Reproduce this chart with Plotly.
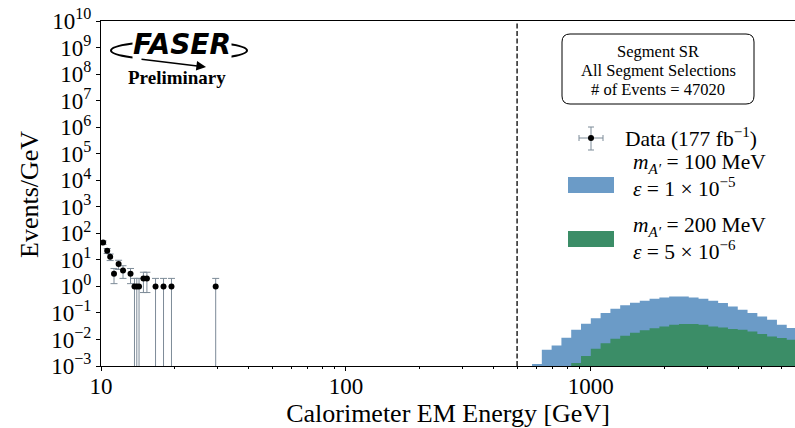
import numpy as np
import plotly.graph_objects as go

# ---------------- data ----------------
data_energy = [10.2, 10.6, 10.9, 11.3, 11.8, 12.3, 13.2, 13.7, 14.0, 14.3,
               14.9, 15.4, 16.7, 18.0, 19.4, 29.4]
data_events = [45, 22, 13, 3, 7, 4, 3, 1, 1, 1, 2, 2, 1, 1, 1, 1]

# signal histograms: log10 bin edges (0.04 decade bins)
signal_edges_log = [round(2.76 + 0.04 * i, 2) for i in range(28)]
signal_100mev = [0.0012, 0.0041, 0.0059, 0.0116, 0.023, 0.039, 0.063, 0.10,
                 0.144, 0.195, 0.243, 0.29, 0.34, 0.38, 0.42, 0.42, 0.38,
                 0.34, 0.29, 0.236, 0.176, 0.132, 0.099, 0.074, 0.055, 0.036,
                 0.027]
green_first_bin = 4
signal_200mev = [0.0013, 0.0024, 0.0045, 0.0072, 0.0106, 0.0138, 0.0179,
                 0.0222, 0.0265, 0.031, 0.036, 0.038, 0.038, 0.036, 0.031,
                 0.028, 0.025, 0.023, 0.020, 0.016, 0.013, 0.0113, 0.0097]

energy_cut = 500
y_tick_exponents = list(range(-3, 11))
x_tick_vals = [10, 100, 1000]
x_minor_vals = [m * 10 ** d for d in (1, 2, 3) for m in range(2, 10)]

BLUE = "#6b9bc7"
GREEN = "#3b8d67"
ERRC = "#7d8b98"
SERIF = "Liberation Serif, Times New Roman, serif"

# ---------------- geometry helpers (layout only) ----------------
W, H = 795, 428
ML, MR, MT, MB = 101, 0, 21, 62
PW, PH = W - ML - MR, H - MT - MB


def px(x):
    return (x - ML) / PW


def py(y):
    return (H - MB - y) / PH


fig = go.Figure()

# signal histograms as step fills
edges = [10 ** e for e in signal_edges_log]
fig.add_trace(go.Scatter(
    x=edges, y=signal_100mev + [signal_100mev[-1]],
    mode="lines", line=dict(shape="hv", width=0, color=BLUE),
    fill="tozeroy", fillcolor=BLUE, showlegend=False, hoverinfo="skip"))
g_edges = edges[green_first_bin:green_first_bin + len(signal_200mev) + 1]
fig.add_trace(go.Scatter(
    x=g_edges, y=signal_200mev + [signal_200mev[-1]],
    mode="lines", line=dict(shape="hv", width=0, color=GREEN),
    fill="tozeroy", fillcolor=GREEN, showlegend=False, hoverinfo="skip"))

# data points with Poisson errors
err = [float(np.sqrt(n)) for n in data_events]
fig.add_trace(go.Scatter(
    x=data_energy, y=data_events, mode="markers",
    marker=dict(color="black", size=6),
    error_y=dict(type="data", array=err, arrayminus=err, color=ERRC,
                 thickness=1, width=3.5),
    showlegend=False, hoverinfo="skip"))

# energy cut
fig.add_trace(go.Scatter(
    x=[energy_cut, energy_cut], y=[10 ** -3, 10 ** 10], mode="lines",
    line=dict(color="black", width=1.3, dash="5px,2.5px"),
    showlegend=False, hoverinfo="skip", cliponaxis=True))

fig.update_xaxes(
    type="log", range=[1, np.log10(6820)],
    tickmode="array", tickvals=x_tick_vals, ticktext=[str(v) for v in x_tick_vals],
    ticks="outside", ticklen=4, tickwidth=1, tickcolor="black",
    ticklabelstandoff=-5,
    minor=dict(tickmode="array", tickvals=x_minor_vals, ticks="outside",
               ticklen=2, tickwidth=1, tickcolor="black"),
    showline=True, linecolor="black", linewidth=1, mirror=True,
    showgrid=False, zeroline=False,
    tickfont=dict(family=SERIF, size=23, color="black"),
    title=dict(text="Calorimeter EM Energy [GeV]",
               font=dict(family=SERIF, size=26, color="black"), standoff=2),
)
fig.update_yaxes(
    type="log", range=[-3, 10],
    tickmode="array", tickvals=[10.0 ** e for e in y_tick_exponents],
    ticktext=["10<sup>%s</sup>" % (str(e) if e >= 0 else "\u2212" + str(-e))
              for e in y_tick_exponents],
    ticks="outside", ticklen=4, tickwidth=1, tickcolor="black",
    showline=True, linecolor="black", linewidth=1, mirror=False,
    showgrid=False, zeroline=False,
    tickfont=dict(family=SERIF, size=23, color="black"),
)

shapes = []
annotations = []

# y-axis title placed as rotated text
annotations.append(dict(xref="paper", yref="paper", x=px(29), y=py(195),
                        text="Events/GeV", textangle=-90, showarrow=False,
                        xanchor="center", yanchor="middle",
                        font=dict(family=SERIF, size=26, color="black")))

# rounded info box
x0, x1, y0, y1, r = 562, 754, 34, 104, 8
path = (f"M {px(x0 + r)},{py(y0)} L {px(x1 - r)},{py(y0)} "
        f"Q {px(x1)},{py(y0)} {px(x1)},{py(y0 + r)} "
        f"L {px(x1)},{py(y1 - r)} Q {px(x1)},{py(y1)} {px(x1 - r)},{py(y1)} "
        f"L {px(x0 + r)},{py(y1)} Q {px(x0)},{py(y1)} {px(x0)},{py(y1 - r)} "
        f"L {px(x0)},{py(y0 + r)} Q {px(x0)},{py(y0)} {px(x0 + r)},{py(y0)} Z")
shapes.append(dict(type="path", xref="paper", yref="paper", path=path,
                   line=dict(color="black", width=1), fillcolor="white"))
for text, yy in [("Segment SR", 51), ("All Segment Selections", 70),
                 ("# of Events = 47020", 89)]:
    annotations.append(dict(xref="paper", yref="paper", x=px(658), y=py(yy),
                            text=text, showarrow=False, xanchor="center",
                            yanchor="middle",
                            font=dict(family=SERIF, size=16.5, color="black")))

# legend: data glyph
cx, cy = 591, 138
shapes += [
    dict(type="line", xref="paper", yref="paper", x0=px(579), x1=px(603),
         y0=py(cy), y1=py(cy), line=dict(color=ERRC, width=1)),
    dict(type="line", xref="paper", yref="paper", x0=px(cx), x1=px(cx),
         y0=py(127), y1=py(150), line=dict(color=ERRC, width=1)),
    dict(type="line", xref="paper", yref="paper", x0=px(cx - 3), x1=px(cx + 3),
         y0=py(127), y1=py(127), line=dict(color=ERRC, width=1)),
    dict(type="line", xref="paper", yref="paper", x0=px(cx - 3), x1=px(cx + 3),
         y0=py(150), y1=py(150), line=dict(color=ERRC, width=1)),
    dict(type="line", xref="paper", yref="paper", x0=px(579), x1=px(579),
         y0=py(cy - 3), y1=py(cy + 3), line=dict(color=ERRC, width=1)),
    dict(type="line", xref="paper", yref="paper", x0=px(603), x1=px(603),
         y0=py(cy - 3), y1=py(cy + 3), line=dict(color=ERRC, width=1)),
    dict(type="circle", xref="paper", yref="paper", x0=px(cx - 3), x1=px(cx + 3),
         y0=py(cy - 3), y1=py(cy + 3), fillcolor="black",
         line=dict(color="black", width=0)),
    dict(type="rect", xref="paper", yref="paper", x0=px(568), x1=px(614),
         y0=py(177), y1=py(193), fillcolor=BLUE, line=dict(width=0)),
    dict(type="rect", xref="paper", yref="paper", x0=px(568), x1=px(614),
         y0=py(231), y1=py(247), fillcolor=GREEN, line=dict(width=0)),
]
leg_font = dict(family=SERIF, size=21.5, color="black")
legend_texts = [
    ("Data (177 fb<sup>\u22121</sup>)", 137, 623),
    ("<i>m</i><sub><i>A\u2032</i></sub> = 100 MeV", 163, 631),
    ("<i>\u03b5</i> = 1 \u00d7 10<sup>\u22125</sup>", 187, 631),
    ("<i>m</i><sub><i>A\u2032</i></sub> = 200 MeV", 226, 631),
    ("<i>\u03b5</i> = 5 \u00d7 10<sup>\u22126</sup>", 250, 631),
]
for text, yy, xx in legend_texts:
    annotations.append(dict(xref="paper", yref="paper", x=px(xx), y=py(yy),
                            text=text, showarrow=False, xanchor="left",
                            yanchor="middle", font=leg_font))

# FASER logo
shapes.append(dict(type="circle", xref="paper", yref="paper",
                   x0=px(111), x1=px(247), y0=py(41), y1=py(60),
                   line=dict(color="black", width=2)))
annotations.append(dict(xref="paper", yref="paper", x=px(182), y=py(44),
                        text="<b><i>FASER</i></b>", showarrow=False,
                        xanchor="center", yanchor="middle", bgcolor="white",
                        borderpad=0,
                        font=dict(family="DejaVu Sans", size=28, color="black")))
annotations.append(dict(xref="paper", yref="paper", axref="pixel", ayref="pixel",
                        ax=-66, ay=-8, x=px(206), y=py(67), text="",
                        showarrow=True, arrowhead=2, arrowsize=1.2,
                        arrowwidth=1.6, arrowcolor="black"))
annotations.append(dict(xref="paper", yref="paper", x=px(177), y=py(77),
                        text="<b>Preliminary</b>", showarrow=False,
                        xanchor="center", yanchor="middle",
                        font=dict(family=SERIF, size=19, color="black")))

fig.update_layout(
    width=W, height=H,
    margin=dict(l=ML, r=MR, t=MT, b=MB),
    paper_bgcolor="white", plot_bgcolor="white",
    shapes=shapes, annotations=annotations,
    showlegend=False,
)

fig.write_html("out.html")
